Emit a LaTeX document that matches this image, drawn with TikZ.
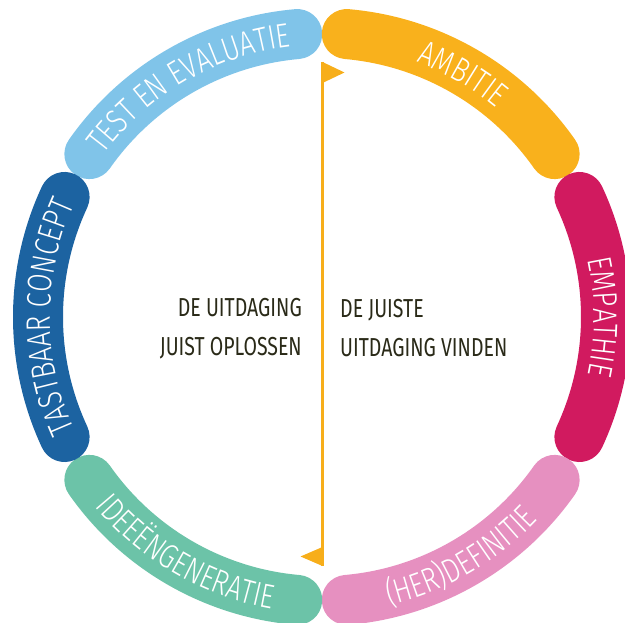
\documentclass[tikz,border=0pt]{standalone}
\usepackage{fontspec}
\setmainfont{Fira Sans}
\newfontfamily\ringfont[FakeStretch=0.78]{Fira Sans Light}
\newfontfamily\midfont[FakeStretch=0.75]{Fira Sans}
\usetikzlibrary{decorations.text}

\definecolor{ambitie}{HTML}{F9B11C}
\definecolor{empathie}{HTML}{D11A5F}
\definecolor{herdef}{HTML}{E690C0}
\definecolor{ideeen}{HTML}{6CC3A8}
\definecolor{tastbaar}{HTML}{1C63A1}
\definecolor{testeval}{HTML}{80C4E9}
\definecolor{flagcol}{HTML}{F7AE1A}
\definecolor{inkcol}{HTML}{2A2A18}

\tikzset{
  ringseg/.style={line width=50pt, line cap=round},
  ringtext/.style={decorate, decoration={text along path, text align=center,
      text color=white, text={|\ringfont\fontsize{34}{34}\selectfont|#1}}},
  midtext/.style={font=\midfont\fontsize{26}{39}\selectfont, text=inkcol, inner sep=0pt}
}

\begin{document}
\begin{tikzpicture}[x=1pt, y=1pt]
    \useasboundingbox (0,0) rectangle (625,623);
    \coordinate (ctr) at (322,306);
    \def\rr{284}

    % Draw the six ring segments
    \foreach \from/\to/\col in {95/145/testeval, 35/85/ambitie, -25/25/empathie,
                                -85/-35/herdef, 215/265/ideeen, 155/205/tastbaar}
      \draw[ringseg, \col] ([shift={(\from:\rr)}]ctr) arc[start angle=\from, end angle=\to, radius=\rr];

    % Labels on the upper segments (clockwise)
    \path[ringtext=TEST EN EVALUATIE] ([shift={(147:272)}]ctr) arc[start angle=147, end angle=93, radius=272];
    \path[ringtext=AMBITIE] ([shift={(85:272)}]ctr) arc[start angle=85, end angle=35, radius=272];
    \path[ringtext=EMPATHIE] ([shift={(25:272)}]ctr) arc[start angle=25, end angle=-25, radius=272];
    \path[ringtext=TASTBAAR CONCEPT] ([shift={(207:272)}]ctr) arc[start angle=207, end angle=153, radius=272];

    % Labels on the lower segments (counterclockwise)
    \path[ringtext=IDEEËNGENERATIE] ([shift={(213:296)}]ctr) arc[start angle=213, end angle=267, radius=296];
    \path[ringtext=(HER)DEFINITIE] ([shift={(275:296)}]ctr) arc[start angle=275, end angle=325, radius=296];

    % Draw the flag pole with its two flags
    \coordinate (poletop) at (322.5,561);
    \coordinate (polebot) at (322.5,57);
    \draw[flagcol, line width=3pt] (poletop) -- (polebot);
    \fill[flagcol] (poletop) -- ++(22,-10.5) -- ++(-22,-10.5) -- cycle;
    \fill[flagcol] (polebot) -- ++(-22,9.5) -- ++(22,9.5) -- cycle;

    % Draw the two halves of the middle text
    \node[midtext, anchor=east, align=right] (solve) at (302,294.5) {DE UITDAGING\\JUIST OPLOSSEN};
    \node[midtext, anchor=west, align=left] (find) at (340,294.5) {DE JUISTE\\UITDAGING VINDEN};
\end{tikzpicture}
\end{document}
